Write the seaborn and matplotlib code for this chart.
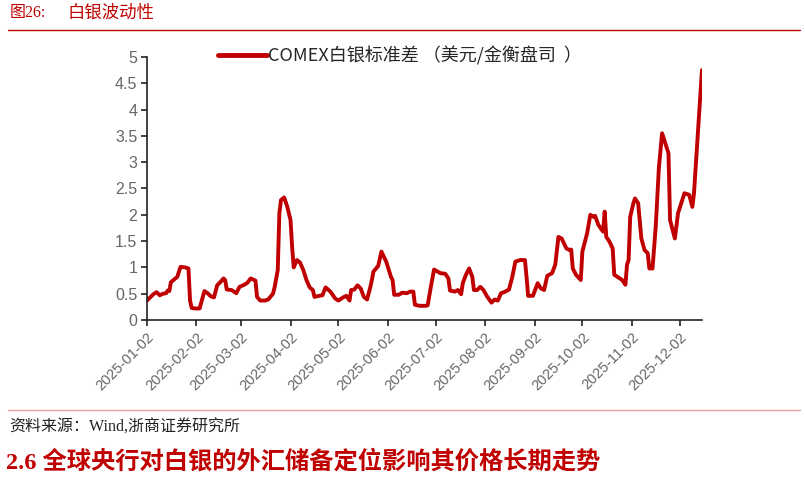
import pandas as pd
import numpy as np
import seaborn as sns
import matplotlib.pyplot as plt
from matplotlib.lines import Line2D

# COMEX silver std
dates = [
    '2025-01-02', '2025-01-06', '2025-01-08', '2025-01-10', '2025-01-12', '2025-01-14',
    '2025-01-15', '2025-01-16', '2025-01-17', '2025-01-19', '2025-01-21', '2025-01-23',
    '2025-01-26', '2025-01-28', '2025-01-29', '2025-01-30', '2025-02-01', '2025-02-04',
    '2025-02-07', '2025-02-09', '2025-02-11', '2025-02-13', '2025-02-15', '2025-02-17',
    '2025-02-19', '2025-02-20', '2025-02-21', '2025-02-24', '2025-02-27', '2025-03-01',
    '2025-03-04', '2025-03-06', '2025-03-08', '2025-03-11', '2025-03-12', '2025-03-14',
    '2025-03-17', '2025-03-19', '2025-03-22', '2025-03-23', '2025-03-25', '2025-03-26',
    '2025-03-27', '2025-03-29', '2025-03-31', '2025-04-02', '2025-04-03', '2025-04-04',
    '2025-04-06', '2025-04-08', '2025-04-10', '2025-04-12', '2025-04-14', '2025-04-16',
    '2025-04-17', '2025-04-20', '2025-04-22', '2025-04-24', '2025-04-27', '2025-04-30',
    '2025-05-02', '2025-05-05', '2025-05-07', '2025-05-09', '2025-05-10', '2025-05-12',
    '2025-05-14', '2025-05-16', '2025-05-18', '2025-05-20', '2025-05-22', '2025-05-23',
    '2025-05-24', '2025-05-27', '2025-05-29', '2025-06-01', '2025-06-04', '2025-06-05',
    '2025-06-06', '2025-06-09', '2025-06-11', '2025-06-14', '2025-06-16', '2025-06-18',
    '2025-06-19', '2025-06-22', '2025-06-26', '2025-06-27', '2025-06-29', '2025-07-01',
    '2025-07-05', '2025-07-08', '2025-07-10', '2025-07-11', '2025-07-14', '2025-07-16',
    '2025-07-18', '2025-07-19', '2025-07-21', '2025-07-23', '2025-07-25', '2025-07-26',
    '2025-07-28', '2025-07-30', '2025-08-01', '2025-08-03', '2025-08-06', '2025-08-08',
    '2025-08-10', '2025-08-12', '2025-08-14', '2025-08-17', '2025-08-19', '2025-08-21',
    '2025-08-24', '2025-08-27', '2025-08-28', '2025-08-29', '2025-09-01', '2025-09-04',
    '2025-09-06', '2025-09-08', '2025-09-10', '2025-09-13', '2025-09-15', '2025-09-17',
    '2025-09-19', '2025-09-22', '2025-09-24', '2025-09-25', '2025-09-26', '2025-09-28',
    '2025-10-01', '2025-10-02', '2025-10-05', '2025-10-07', '2025-10-09', '2025-10-10',
    '2025-10-12', '2025-10-15', '2025-10-16', '2025-10-17', '2025-10-19', '2025-10-21',
    '2025-10-22', '2025-10-24', '2025-10-27', '2025-10-29', '2025-10-30', '2025-10-31',
    '2025-11-01', '2025-11-03', '2025-11-04', '2025-11-06', '2025-11-08', '2025-11-10',
    '2025-11-12', '2025-11-13', '2025-11-15', '2025-11-17', '2025-11-19', '2025-11-21',
    '2025-11-23', '2025-11-25', '2025-11-26', '2025-11-29', '2025-12-01', '2025-12-03',
    '2025-12-05', '2025-12-08', '2025-12-10', '2025-12-11', '2025-12-16',
]
std_values = [
    0.37, 0.49, 0.53, 0.47, 0.50, 0.51,
    0.56, 0.55, 0.72, 0.77, 0.82, 1.01,
    1.00, 0.98, 0.37, 0.23, 0.22, 0.22,
    0.55, 0.51, 0.45, 0.43, 0.66, 0.72,
    0.79, 0.76, 0.58, 0.57, 0.51, 0.63,
    0.67, 0.71, 0.79, 0.75, 0.44, 0.37,
    0.37, 0.39, 0.50, 0.62, 0.95, 2.03,
    2.28, 2.33, 2.15, 1.90, 1.39, 1.00,
    1.14, 1.09, 0.95, 0.76, 0.62, 0.57,
    0.44, 0.46, 0.47, 0.62, 0.54, 0.41,
    0.37, 0.43, 0.46, 0.37, 0.57, 0.58,
    0.66, 0.60, 0.44, 0.39, 0.62, 0.76,
    0.92, 1.03, 1.30, 1.11, 0.82, 0.76,
    0.48, 0.48, 0.52, 0.51, 0.54, 0.54,
    0.29, 0.27, 0.27, 0.28, 0.63, 0.96,
    0.89, 0.88, 0.79, 0.56, 0.54, 0.57,
    0.49, 0.70, 0.86, 0.98, 0.82, 0.57,
    0.57, 0.63, 0.57, 0.46, 0.33, 0.39,
    0.37, 0.51, 0.53, 0.58, 0.81, 1.11,
    1.14, 1.14, 0.82, 0.46, 0.46, 0.70,
    0.60, 0.57, 0.84, 0.89, 1.05, 1.58,
    1.55, 1.36, 1.33, 1.34, 0.98, 0.86,
    0.76, 1.30, 1.65, 2.00, 1.96, 1.98,
    1.81, 1.68, 2.06, 1.58, 1.49, 1.36,
    0.86, 0.82, 0.76, 0.67, 1.05, 1.14,
    1.96, 2.22, 2.31, 2.22, 1.55, 1.33,
    1.27, 0.98, 0.98, 1.77, 2.90, 3.55,
    3.36, 3.17, 1.90, 1.55, 2.03, 2.22,
    2.41, 2.38, 2.15, 2.41, 4.75,
]
tick_dates = ['2025-01-02', '2025-02-02', '2025-03-02', '2025-04-02', '2025-05-02',
              '2025-06-02', '2025-07-02', '2025-08-02', '2025-09-02', '2025-10-02',
              '2025-11-02', '2025-12-02']
y_ticks = [0, 0.5, 1, 1.5, 2, 2.5, 3, 3.5, 4, 4.5, 5]

series_label = 'COMEX白银标准差 （美元/金衡盘司  ）'
header_no = '图26:'
header_title = '白银波动性'
source = '资料来源：Wind,浙商证券研究所'
section = '2.6 全球央行对白银的外汇储备定位影响其价格长期走势'

RED = '#c00000'
GRAY = '#666666'

sns.set_style('ticks')
plt.rcParams['font.family'] = ['Noto Sans CJK SC', 'DejaVu Sans']
serif = ['Liberation Serif', 'Noto Sans CJK SC']

df = pd.DataFrame({'date': pd.to_datetime(dates), 'std': std_values})

fig = plt.figure(figsize=(8.05, 4.78), dpi=100)
ax = fig.add_axes([0.1826, 0.3305, 0.6894, 0.5503])

sns.lineplot(data=df, x='date', y='std', ax=ax, color=RED, linewidth=2.8)

ax.set_xlim(pd.Timestamp('2025-01-02'), pd.Timestamp('2025-12-16'))
ax.set_ylim(0, 5)
ax.set_yticks(y_ticks)
ax.set_yticklabels([f'{v:g}' for v in y_ticks])
ax.set_xticks(pd.to_datetime(tick_dates))
ax.set_xticklabels(tick_dates, rotation=45, ha='right', rotation_mode='anchor')
ax.set_xlabel('')
ax.set_ylabel('')

for s in ['top', 'right']:
    ax.spines[s].set_visible(False)
for s in ['left', 'bottom']:
    ax.spines[s].set_color('#222222')
    ax.spines[s].set_linewidth(1.2)
ax.tick_params(axis='y', labelsize=11.5, labelcolor=GRAY, length=4, width=1.2,
               color='#222222', pad=3)
ax.tick_params(axis='x', labelsize=10.5, labelcolor=GRAY, length=4, width=1.2,
               color='#222222', pad=3)
for lbl in ax.get_yticklabels() + ax.get_xticklabels():
    lbl.set_family(['Liberation Sans', 'DejaVu Sans'])

handle = Line2D([], [], color=RED, linewidth=3.5)
ax.legend([handle], [series_label], loc='center left', bbox_to_anchor=(0.128, 1.005),
          frameon=False, fontsize=13, handlelength=2.7, handletextpad=0.05,
          borderaxespad=0, borderpad=0)

# header / footer text
fig.text(0.012, 0.972, header_no, color=RED, fontsize=11.5, va='center', family=serif)
fig.text(0.084, 0.972, header_title, color=RED, fontsize=12.5, va='center', family=serif)
fig.add_artist(Line2D([0.01, 0.994], [0.937, 0.937], color=RED, linewidth=1.0))
fig.add_artist(Line2D([0.01, 0.994], [0.142, 0.142], color='#e8a0a0', linewidth=1.0))
fig.text(0.012, 0.105, source, color='#222222', fontsize=11.5, va='center', family=serif)
fig.text(0.008, 0.033, section, color=RED, fontsize=17.5, fontweight='bold', va='center',
         family=serif)

fig.savefig('out.png', dpi=100)
